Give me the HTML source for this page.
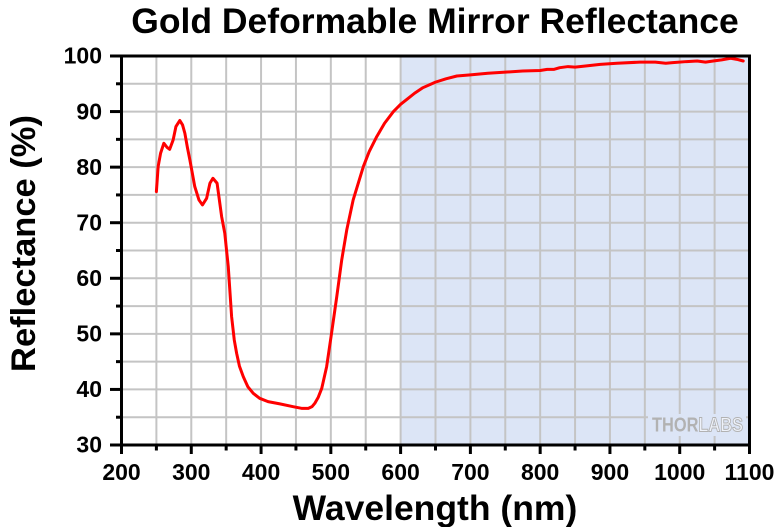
<!DOCTYPE html>
<html><head><meta charset="utf-8"><style>
html,body{margin:0;padding:0;background:#fff;}
svg{display:block;}
text{font-family:"Liberation Sans",Arial,sans-serif;font-weight:bold;fill:#000;}
</style></head><body>
<svg width="780" height="527" viewBox="0 0 780 527" xmlns="http://www.w3.org/2000/svg">
<rect x="0" y="0" width="780" height="527" fill="#fff"/>
<rect x="400.61" y="56" width="348.89" height="389" fill="#dce5f6"/>
<g stroke="#c4c4c4" stroke-width="2">
<line x1="156.39" y1="56" x2="156.39" y2="445"/><line x1="191.28" y1="56" x2="191.28" y2="445"/><line x1="226.17" y1="56" x2="226.17" y2="445"/><line x1="261.06" y1="56" x2="261.06" y2="445"/><line x1="295.94" y1="56" x2="295.94" y2="445"/><line x1="330.83" y1="56" x2="330.83" y2="445"/><line x1="365.72" y1="56" x2="365.72" y2="445"/><line x1="400.61" y1="56" x2="400.61" y2="445"/><line x1="435.5" y1="56" x2="435.5" y2="445"/><line x1="470.39" y1="56" x2="470.39" y2="445"/><line x1="505.28" y1="56" x2="505.28" y2="445"/><line x1="540.17" y1="56" x2="540.17" y2="445"/><line x1="575.06" y1="56" x2="575.06" y2="445"/><line x1="609.94" y1="56" x2="609.94" y2="445"/><line x1="644.83" y1="56" x2="644.83" y2="445"/><line x1="679.72" y1="56" x2="679.72" y2="445"/><line x1="714.61" y1="56" x2="714.61" y2="445"/>
<line x1="121.5" y1="417.21" x2="749.5" y2="417.21"/><line x1="121.5" y1="389.43" x2="749.5" y2="389.43"/><line x1="121.5" y1="361.64" x2="749.5" y2="361.64"/><line x1="121.5" y1="333.86" x2="749.5" y2="333.86"/><line x1="121.5" y1="306.07" x2="749.5" y2="306.07"/><line x1="121.5" y1="278.29" x2="749.5" y2="278.29"/><line x1="121.5" y1="250.5" x2="749.5" y2="250.5"/><line x1="121.5" y1="222.71" x2="749.5" y2="222.71"/><line x1="121.5" y1="194.93" x2="749.5" y2="194.93"/><line x1="121.5" y1="167.14" x2="749.5" y2="167.14"/><line x1="121.5" y1="139.36" x2="749.5" y2="139.36"/><line x1="121.5" y1="111.57" x2="749.5" y2="111.57"/><line x1="121.5" y1="83.79" x2="749.5" y2="83.79"/>
</g>
<rect x="648" y="414" width="98" height="22" fill="#dce5f6"/>
<text x="652" y="431.7" font-size="20" textLength="91" lengthAdjust="spacingAndGlyphs"><tspan style="fill:#b2b2b2">THOR</tspan><tspan style="fill:#eef2fa;stroke:#b2b2b2;stroke-width:1">LABS</tspan></text>
<g transform="matrix(0.69778 0 0 -5.557 -18.056 611.71)">
<polyline fill="none" stroke="#ff0000" stroke-width="3" vector-effect="non-scaling-stroke" stroke-linejoin="round" stroke-linecap="round" points="250,75.6 252.5,80.1 256,82.5 260.7,84.3 265,83.6 269,83.2 274,84.9 278,87.3 283.6,88.4 287.5,87.6 290.8,86.1 294.5,83.5 298,81.3 305,76.5 311,74.1 316,73.2 322,74.4 326.7,77.1 331,78.0 337,77.1 343.5,71.1 348,68.1 353,62.1 357.8,53.1 361.6,48.9 365,46.5 369,44.2 374.5,42.3 381,40.5 388.8,39.3 398,38.4 410,37.8 427,37.4 446,36.9 458,36.6 467.7,36.6 473,36.9 477,37.5 482,38.6 487,40.2 494,44.1 501,50.1 508.5,56.7 515.6,63.3 522.8,68.7 532,74.1 546.6,80.1 555,82.8 565.8,85.5 577,87.9 589.7,90.0 600,91.3 610,92.3 620,93.3 632,94.3 650,95.3 665,95.9 680.6,96.4 700,96.6 725,96.9 750,97.1 775,97.3 800,97.4 810,97.6 820,97.6 828,97.9 840,98.1 850,98.0 865,98.2 886,98.5 910,98.7 943,98.9 965,98.9 980,98.7 990,98.8 1010,99.0 1025,99.1 1037,98.9 1048,99.1 1060,99.3 1073,99.6 1082,99.4 1091,99.1"/>
</g>
<g stroke="#000" stroke-width="3" fill="none">
<rect x="121.5" y="56" width="628" height="389"/>
<line x1="110" y1="56" x2="121.5" y2="56"/><line x1="110" y1="111.57" x2="121.5" y2="111.57"/><line x1="110" y1="167.14" x2="121.5" y2="167.14"/><line x1="110" y1="222.71" x2="121.5" y2="222.71"/><line x1="110" y1="278.29" x2="121.5" y2="278.29"/><line x1="110" y1="333.86" x2="121.5" y2="333.86"/><line x1="110" y1="389.43" x2="121.5" y2="389.43"/><line x1="110" y1="445" x2="121.5" y2="445"/>
<line x1="116" y1="83.79" x2="121.5" y2="83.79"/><line x1="116" y1="139.36" x2="121.5" y2="139.36"/><line x1="116" y1="194.93" x2="121.5" y2="194.93"/><line x1="116" y1="250.5" x2="121.5" y2="250.5"/><line x1="116" y1="306.07" x2="121.5" y2="306.07"/><line x1="116" y1="361.64" x2="121.5" y2="361.64"/><line x1="116" y1="417.21" x2="121.5" y2="417.21"/>
<line x1="121.5" y1="445" x2="121.5" y2="454"/><line x1="191.28" y1="445" x2="191.28" y2="454"/><line x1="261.06" y1="445" x2="261.06" y2="454"/><line x1="330.83" y1="445" x2="330.83" y2="454"/><line x1="400.61" y1="445" x2="400.61" y2="454"/><line x1="470.39" y1="445" x2="470.39" y2="454"/><line x1="540.17" y1="445" x2="540.17" y2="454"/><line x1="609.94" y1="445" x2="609.94" y2="454"/><line x1="679.72" y1="445" x2="679.72" y2="454"/><line x1="749.5" y1="445" x2="749.5" y2="454"/>
<line x1="156.39" y1="445" x2="156.39" y2="450.5"/><line x1="226.17" y1="445" x2="226.17" y2="450.5"/><line x1="295.94" y1="445" x2="295.94" y2="450.5"/><line x1="365.72" y1="445" x2="365.72" y2="450.5"/><line x1="435.5" y1="445" x2="435.5" y2="450.5"/><line x1="505.28" y1="445" x2="505.28" y2="450.5"/><line x1="575.06" y1="445" x2="575.06" y2="450.5"/><line x1="644.83" y1="445" x2="644.83" y2="450.5"/><line x1="714.61" y1="445" x2="714.61" y2="450.5"/>
</g>
<g font-size="23" text-anchor="end">
<text x="102" y="63.7">100</text><text x="102" y="119.3">90</text><text x="102" y="174.8">80</text><text x="102" y="230.4">70</text><text x="102" y="286">60</text><text x="102" y="341.6">50</text><text x="102" y="397.1">40</text><text x="102" y="452.7">30</text>
</g>
<g font-size="23" text-anchor="middle">
<text x="121.5" y="480">200</text><text x="191.28" y="480">300</text><text x="261.06" y="480">400</text><text x="330.83" y="480">500</text><text x="400.61" y="480">600</text><text x="470.39" y="480">700</text><text x="540.17" y="480">800</text><text x="609.94" y="480">900</text><text x="679.72" y="480">1000</text><text x="749.5" y="480">1100</text>
</g>
<text x="435" y="33" font-size="35.5" text-anchor="middle">Gold Deformable Mirror Reflectance</text>
<text x="435" y="520" font-size="35.5" text-anchor="middle">Wavelength (nm)</text>
<text transform="translate(35,243.5) rotate(-90)" x="0" y="0" font-size="34.5" text-anchor="middle">Reflectance (%)</text>
</svg>
</body></html>
